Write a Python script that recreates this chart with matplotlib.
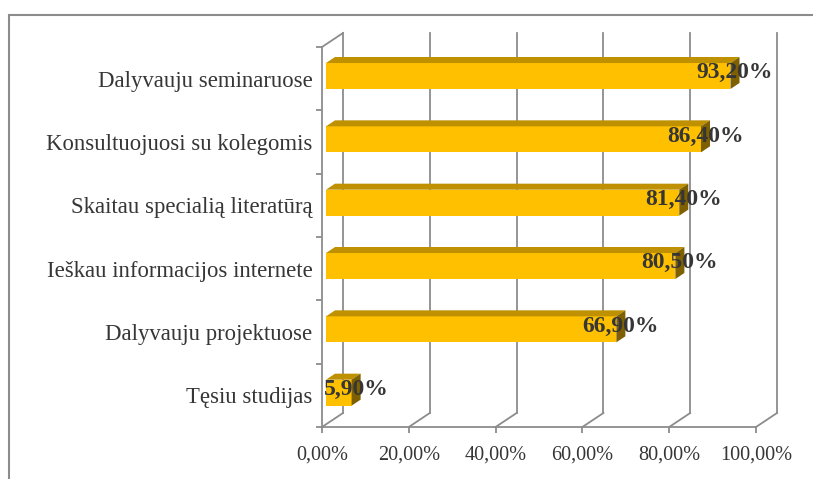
import matplotlib
matplotlib.use("Agg")
import matplotlib.pyplot as plt
from matplotlib.patches import Polygon, Rectangle

plt.rcParams['font.family'] = ['Liberation Serif', 'DejaVu Serif']

# data (bottom to top)
categories = [
    "Tęsiu studijas",
    "Dalyvauju projektuose",
    "Ieškau informacijos internete",
    "Skaitau specialią literatūrą",
    "Konsultuojuosi su kolegomis",
    "Dalyvauju seminaruose",
]
values = [5.9, 66.9, 80.5, 81.4, 86.4, 93.2]
xticks = [0, 20, 40, 60, 80, 100]
xtick_labels = ["0,00%", "20,00%", "40,00%", "60,00%", "80,00%", "100,00%"]

# 3d look
DX = 4.84      # depth offset in x data units
DY = 0.221     # depth offset in category units
F0 = 0.19      # where the bar front face sits inside the depth
BD = 0.43      # bar depth fraction
H = 0.41       # bar height
GRID = '#8c8c8c'
FRONT = '#FFC000'
TOP = '#BF9000'
SIDE = '#7F6000'
TXT = '#363636'

fig = plt.figure(figsize=(8.13, 4.79), dpi=100)
fig.patches.append(Rectangle((9 / 813, -0.1), 1.2, 1 - 15 / 479 + 0.1,
                             transform=fig.transFigure, fill=False,
                             edgecolor='#8c8c8c', lw=1.5))

ax = fig.add_axes([322 / 813, 52 / 479, 434 / 813, 380 / 479])
ax.set_xlim(0, 100)
ax.set_ylim(-0.5, len(categories) - 0.5)
ax.patch.set_visible(False)
for s in ['top', 'right']:
    ax.spines[s].set_visible(False)
for s in ['left', 'bottom']:
    ax.spines[s].set_color(GRID)
    ax.spines[s].set_linewidth(1.3)

ybot = -0.5
ytop = len(categories) - 0.5

# back wall gridlines + floor diagonals
for x in xticks:
    ax.plot([x + DX, x + DX], [ybot + DY, ytop + DY], color=GRID, lw=1.3,
            clip_on=False, zorder=1)
    ax.plot([x, x + DX], [ybot, ybot + DY], color=GRID, lw=1.3,
            clip_on=False, zorder=1)
ax.plot([0, DX], [ytop, ytop + DY], color=GRID, lw=1.3, clip_on=False, zorder=1)

# bars
for i, v in enumerate(values):
    x0 = F0 * DX
    yc = i + F0 * DY
    yb, yt = yc - H / 2, yc + H / 2
    ax.add_patch(Rectangle((x0, yb), v, H, facecolor=FRONT, edgecolor='none',
                           zorder=3, clip_on=False))
    ax.add_patch(Polygon([(x0, yt), (x0 + v, yt), (x0 + v + BD * DX, yt + BD * DY),
                          (x0 + BD * DX, yt + BD * DY)],
                         facecolor=TOP, edgecolor='none', zorder=3, clip_on=False))
    ax.add_patch(Polygon([(x0 + v, yb), (x0 + v, yt), (x0 + v + BD * DX, yt + BD * DY),
                          (x0 + v + BD * DX, yb + BD * DY)],
                         facecolor=SIDE, edgecolor='none', zorder=3, clip_on=False))
    lab = f"{v:.2f}".replace('.', ',') + '%'
    ax.text(x0 + v + BD * DX / 2, yc + 0.05, lab, ha='center', va='center',
            fontsize=17, fontweight='bold', color=TXT, zorder=5, clip_on=False)

ax.set_xticks(xticks)
ax.set_xticklabels(xtick_labels, fontsize=14.6, color=TXT)
ax.tick_params(axis='x', length=4, width=1.3, color=GRID, pad=9)

ax.set_yticks(range(len(categories)))
ax.set_yticklabels(categories, fontsize=16.4, color=TXT)
ax.tick_params(axis='y', which='major', length=0, pad=7)
ax.set_yticks([i - 0.5 for i in range(len(categories) + 1)], minor=True)
ax.tick_params(axis='y', which='minor', length=4, width=1.3, color=GRID)

fig.savefig("out.png", dpi=100)
